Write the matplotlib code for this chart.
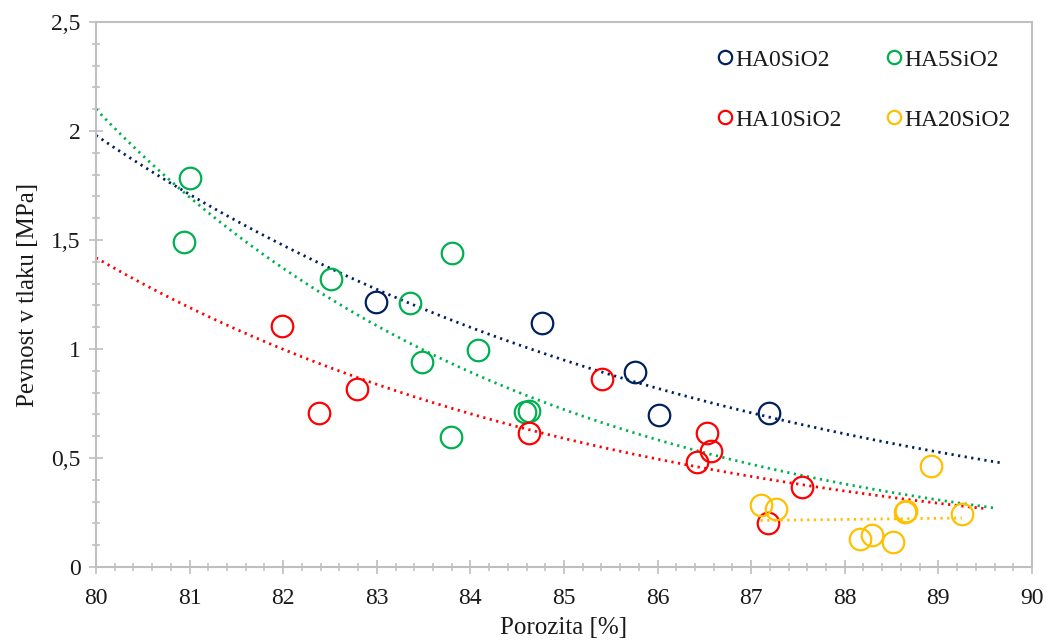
import numpy as np
import matplotlib
matplotlib.use("Agg")
import matplotlib.pyplot as plt
from matplotlib.ticker import MultipleLocator, FuncFormatter

plt.rcParams['font.family'] = ['Liberation Serif', 'DejaVu Serif']

# Porozita [%] a pevnost v tlaku [MPa] pro jednotlivé série
ha0_x = [82.99, 84.76, 85.76, 86.01, 87.19]
ha0_y = [1.216, 1.119, 0.894, 0.697, 0.706]

ha5_x = [81.00, 80.94, 82.51, 83.35, 83.80, 83.48, 84.08, 84.58, 84.63, 83.79]
ha5_y = [1.784, 1.491, 1.321, 1.211, 1.440, 0.940, 0.995, 0.711, 0.716, 0.596]

ha10_x = [81.99, 82.38, 82.79, 84.63, 85.41, 86.53, 86.57, 86.42, 87.54, 87.18]
ha10_y = [1.106, 0.706, 0.817, 0.615, 0.862, 0.615, 0.532, 0.482, 0.367, 0.202]

ha20_x = [87.10, 87.26, 88.16, 88.29, 88.51, 88.64, 88.65, 88.92, 89.25]
ha20_y = [0.284, 0.266, 0.128, 0.147, 0.115, 0.252, 0.257, 0.463, 0.243]

series = [
    ("HA0SiO2", ha0_x, ha0_y, "#002060", (80.0, 89.7)),
    ("HA5SiO2", ha5_x, ha5_y, "#00B050", (80.0, 89.6)),
    ("HA10SiO2", ha10_x, ha10_y, "#FF0000", (80.0, 89.5)),
    ("HA20SiO2", ha20_x, ha20_y, "#FFC000", (87.10, 89.25)),
]

fig = plt.figure(figsize=(10.48, 6.44), dpi=100)
ax = fig.add_axes([0.0916, 0.1196, 0.8931, 0.8463])

handles = {}
for name, xs, ys, col, (x0, x1) in series:
    h, = ax.plot(xs, ys, 'o', ms=15.5, mfc='none', mec=col, mew=1.6,
                 label=name, zorder=3)
    handles[name] = h
    # exponenciální spojnice trendu
    b, a = np.polyfit(xs, np.log(ys), 1)
    xt = np.linspace(x0, x1, 200)
    ax.plot(xt, np.exp(a + b * xt), color=col, lw=2.0,
            ls=(0, (0.8, 1.6)), zorder=2)

ax.set_xlim(80, 90)
ax.set_ylim(0, 2.5)
ax.xaxis.set_major_locator(MultipleLocator(1))
ax.xaxis.set_minor_locator(MultipleLocator(0.2))
ax.yaxis.set_major_locator(MultipleLocator(0.5))
ax.yaxis.set_minor_locator(MultipleLocator(0.1))
ax.yaxis.set_major_formatter(FuncFormatter(
    lambda v, p: ('%g' % v).replace('.', ',')))

for s in ax.spines.values():
    s.set_color('#BFBFBF')
    s.set_linewidth(1.5)
ax.tick_params(which='major', direction='inout', length=10, width=1.2,
               color='#BFBFBF', labelsize=17, labelcolor='#1a1a1a')
ax.tick_params(which='minor', direction='inout', length=6, width=1.1,
               color='#BFBFBF')
ax.tick_params(axis='x', which='major', pad=10)
ax.tick_params(axis='y', which='major', pad=6)
ax.tick_params(axis='x', which='both', top=False)
ax.tick_params(axis='y', which='both', right=False)

ax.set_xlabel("Porozita [%]", fontsize=18, labelpad=6, color='#1a1a1a')
ax.set_ylabel("Pevnost v tlaku [MPa]", fontsize=18, labelpad=9,
              color='#1a1a1a')

# legenda po řádcích: HA0, HA5 / HA10, HA20
order = ["HA0SiO2", "HA10SiO2", "HA5SiO2", "HA20SiO2"]
leg = ax.legend([handles[n] for n in order], order, ncol=2,
                loc='upper right', bbox_to_anchor=(1.0, 0.989),
                frameon=False, fontsize=17, markerscale=0.62,
                handlelength=0.6, handletextpad=0.15, columnspacing=1.9,
                labelspacing=1.62, borderaxespad=0.5)
for t in leg.get_texts():
    t.set_color('#1a1a1a')

fig.savefig("out.png", dpi=100)
